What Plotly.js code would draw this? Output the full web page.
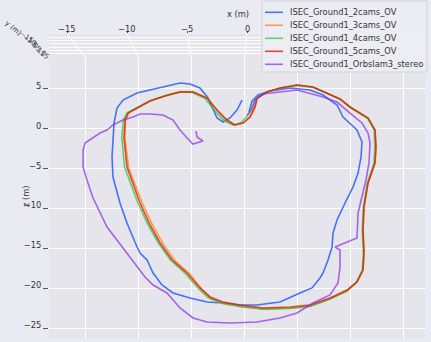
<!DOCTYPE html>
<html>
<head>
<meta charset="utf-8">
<script src="https://cdn.plot.ly/plotly-3.0.1.min.js"></script>
<style>
html, body { margin: 0; padding: 0; background: #eaeaf2; }
#plot { width: 431px; height: 342px; }
</style>
</head>
<body>
<div id="plot"></div>
<script>
// trajectories, x (m) / z (m)
var names = ['ISEC_Ground1_2cams_OV', 'ISEC_Ground1_3cams_OV', 'ISEC_Ground1_4cams_OV',
             'ISEC_Ground1_5cams_OV', 'ISEC_Ground1_Orbslam3_stereo'];
var colors = ['rgba(2,62,255,0.7)', 'rgba(255,124,0,0.7)', 'rgba(26,201,56,0.7)',
              'rgba(222,30,10,0.8)', 'rgba(139,43,226,0.7)'];

var x2cams = [0.44, 0.73, 1.29, 2.42, 4.31, 6.19, 7.42, 8.74, 9.30, 10.62, 11.09, 11.00, 10.72, 10.25, 9.49, 8.74, 8.36, 8.27, 7.89, 7.42, 7.13, 6.38, 5.25, 3.36, 1.20, -0.41, -2.01, -3.52, -5.12, -6.72, -7.76, -8.60, -9.17, -9.83, -10.11, -11.06, -11.72, -12.38, -12.47, -12.38, -12.28, -12.00, -11.43, -10.11, -8.89, -7.47, -6.06, -5.12, -4.18, -3.42, -2.95, -2.57, -2.01, -1.35, -0.69, -0.22];
var z2cams = [2.11, 3.49, 4.24, 4.74, 5.12, 4.87, 4.24, 2.99, 1.48, -0.15, -1.66, -3.54, -5.55, -7.30, -9.31, -11.44, -13.07, -14.83, -16.46, -18.09, -18.72, -19.97, -20.60, -21.73, -22.11, -22.11, -21.86, -21.73, -21.23, -20.60, -19.60, -18.09, -16.46, -15.58, -14.83, -11.82, -9.31, -6.05, -3.54, -1.41, 0.73, 2.61, 3.61, 4.49, 4.87, 5.37, 5.75, 5.62, 5.12, 3.86, 2.36, 1.36, 0.85, 1.36, 2.36, 3.61];

var x3cams = [-0.95, -0.12, 0.54, 1.01, 1.20, 2.14, 3.36, 4.97, 6.47, 7.79, 9.02, 9.96, 10.90, 11.66, 12.32, 12.41, 12.32, 11.66, 11.28, 11.19, 11.28, 11.19, 10.62, 9.70, 8.10, 6.19, 4.31, 1.76, -0.41, -2.00, -3.10, -3.95, -5.10, -6.50, -7.65, -8.60, -9.60, -10.90, -11.25, -11.20, -10.90, -10.00, -8.80, -7.40, -6.00, -4.80, -3.45, -2.55, -1.70, -0.95];
var z3cams = [0.50, 0.73, 1.48, 2.74, 3.84, 4.62, 5.12, 5.50, 5.24, 4.49, 3.74, 2.74, 1.98, 1.36, -0.15, -2.28, -4.29, -6.80, -9.81, -12.70, -15.58, -17.72, -19.22, -20.35, -21.35, -22.25, -22.50, -22.62, -22.30, -21.95, -21.35, -20.20, -18.30, -16.60, -14.45, -12.20, -9.40, -4.90, -1.20, 1.00, 2.00, 2.70, 3.55, 4.18, 4.66, 4.64, 3.80, 2.30, 1.00, 0.50];

var x4cams = [-1.00, -0.30, 0.35, 0.80, 1.10, 2.10, 3.36, 4.97, 6.47, 7.79, 9.02, 9.96, 10.85, 11.60, 12.25, 12.30, 12.22, 11.60, 11.22, 11.12, 11.22, 11.12, 10.55, 9.60, 8.00, 6.19, 4.31, 1.76, -0.41, -2.10, -3.40, -4.35, -5.60, -7.00, -8.15, -9.10, -10.05, -11.30, -11.55, -11.40, -11.05, -10.20, -8.95, -7.55, -6.15, -4.95, -3.70, -2.80, -1.90, -1.00];
var z4cams = [0.45, 0.80, 1.70, 2.90, 3.90, 4.62, 5.10, 5.45, 5.20, 4.45, 3.70, 2.70, 1.95, 1.33, -0.15, -2.28, -4.29, -6.80, -9.81, -12.70, -15.58, -17.72, -19.30, -20.40, -21.40, -22.30, -22.55, -22.65, -22.30, -21.85, -21.20, -20.00, -18.10, -16.40, -14.25, -12.00, -9.25, -4.75, -1.10, 1.15, 2.00, 2.65, 3.50, 4.12, 4.60, 4.58, 3.80, 2.30, 1.00, 0.45];

var x5cams = [-0.88, -0.12, 0.54, 1.01, 1.20, 2.14, 3.36, 4.97, 6.47, 7.79, 9.02, 9.96, 10.90, 11.66, 12.32, 12.41, 12.32, 11.66, 11.28, 11.19, 11.28, 11.19, 10.62, 9.68, 8.08, 6.19, 4.31, 1.76, -0.41, -2.01, -3.23, -4.18, -5.40, -6.81, -7.94, -8.89, -9.83, -11.06, -11.34, -11.24, -10.96, -10.11, -8.89, -7.47, -6.06, -4.84, -3.52, -2.57, -1.63, -0.88];
var z5cams = [0.48, 0.73, 1.48, 2.74, 3.84, 4.62, 5.12, 5.50, 5.24, 4.49, 3.74, 2.74, 1.98, 1.36, -0.15, -2.28, -4.29, -6.80, -9.81, -12.70, -15.58, -17.72, -19.22, -20.23, -21.23, -22.11, -22.36, -22.48, -22.11, -21.73, -21.10, -19.97, -18.09, -16.46, -14.33, -12.07, -9.31, -4.79, -1.15, 1.10, 1.98, 2.61, 3.49, 4.12, 4.62, 4.62, 3.86, 2.36, 1.10, 0.48];

var xOrb = [-4.55, -4.46, -3.89, -4.84, -5.40, -6.06, -6.72, -7.66, -8.89, -9.83, -10.49, -11.43, -12.38, -12.94, -13.60, -14.35, -15.01, -15.20, -15.20, -14.83, -14.26, -12.94, -11.06, -10.02, -9.36, -8.60, -7.29, -6.06, -4.84, -3.52, -1.35, 1.20, 3.36, 4.97, 6.47, 8.08, 8.83, 9.02, 9.02, 8.55, 10.62, 10.72, 11.09, 11.47, 11.75, 11.85, 11.66, 11.09, 9.96, 8.74, 7.42, 4.97, 1.76, 1.01, 0.82, 0.54, 0.25];
var zOrb = [-0.28, -1.03, -1.53, -1.91, -1.15, -0.15, 1.10, 1.73, 1.86, 1.86, 1.48, 1.10, 0.48, -0.15, -0.53, -1.15, -1.78, -2.66, -4.79, -6.42, -8.68, -12.32, -15.58, -17.47, -18.59, -19.60, -20.60, -22.48, -23.74, -24.24, -24.37, -24.24, -23.74, -23.11, -21.86, -20.85, -19.35, -17.34, -15.21, -14.83, -13.70, -10.56, -8.56, -6.42, -4.29, -1.78, -0.53, 0.73, 1.98, 3.36, 3.99, 4.87, 4.37, 3.61, 2.74, 2.11, 1.73];

var xs = [x2cams, x3cams, x4cams, x5cams, xOrb];
var zs = [z2cams, z3cams, z4cams, z5cams, zOrb];

var zTicks = [5, 0, -5, -10, -15, -20, -25];
var xGrid = [-15, -10, -5, 0, 5, 10, 15];
var xTopTicks = [-15, -10, -5, 0];
var yBackTicks = ['\u221215', '\u221210', '\u22125', '0', '5', '10', '15'];

function minus(v) { return v < 0 ? '\u2212' + (-v) : String(v); }

var W = 431, H = 342;
function px(v) { return v / W; }
function py(v) { return 1 - v / H; }

// plot box in pixels
var boxLeft = 49, boxRight = 425, boxTop = 57, boxBottom = 338, stripTop = 34;
var xRange = [-18.41, 17.03];
var zRange = [-26.25, 9.01];
var xTopRange = [-16.5, 14.83];

var font = {family: 'DejaVu Sans, sans-serif', size: 8.3, color: '#333'};
var small = {family: 'DejaVu Sans, sans-serif', size: 7, color: '#333'};

var data = [];
for (var i = 0; i < names.length; i++) {
    data.push({
        x: xs[i], y: zs[i], type: 'scatter', mode: 'lines', name: names[i],
        line: {color: colors[i], width: 1.6}, xaxis: 'x', yaxis: 'y', hoverinfo: 'skip'
    });
}
// keeps the top strip axes drawn
data.push({x: [], y: [], xaxis: 'x2', yaxis: 'y2', type: 'scatter', mode: 'lines', showlegend: false});

var shapes = [];
var annotations = [];

function label(text, x, y, f, extra) {
    var a = {text: text, xref: 'paper', yref: 'paper', x: px(x), y: py(y),
        xanchor: 'center', yanchor: 'middle', showarrow: false, font: f};
    for (var k in extra) a[k] = extra[k];
    annotations.push(a);
}

// slanted grid lines from the back wall down to the floor
function topPx(v) { return boxLeft + (v - xTopRange[0]) * (boxRight - boxLeft) / (xTopRange[1] - xTopRange[0]); }
function bodyPx(v) { return boxLeft + (v - xRange[0]) * (boxRight - boxLeft) / (xRange[1] - xRange[0]); }
xGrid.forEach(function (v) {
    shapes.push({type: 'line', xref: 'paper', yref: 'paper',
        x0: px(topPx(v)), y0: py(stripTop), x1: px(bodyPx(v)), y1: py(boxTop),
        line: {color: '#ffffff', width: 1}, layer: 'below'});
});
// top tick labels of the x axis
xTopTicks.forEach(function (v) {
    label(minus(v), topPx(v), 28.5, font);
});

// squashed y axis at the top left
label('y (m)', 13, 28, small, {textangle: 40});
yBackTicks.forEach(function (t, k) {
    label(t, 26 + k * 3, 37 + k * 3, small, {textangle: 35});
});

label('x (m)', 238, 14, font);
label('z (m)', 26, 196, font, {textangle: -90});

// legend
shapes.push({type: 'rect', xref: 'paper', yref: 'paper', x0: px(262), x1: px(427), y0: py(72), y1: py(1),
    fillcolor: 'rgba(236,236,243,0.95)', line: {color: '#d2d2da', width: 1}, layer: 'above'});
for (var j = 0; j < names.length; j++) {
    var ry = 12.3 + j * 13;
    shapes.push({type: 'line', xref: 'paper', yref: 'paper', x0: px(265), x1: px(283), y0: py(ry), y1: py(ry),
        line: {color: colors[j], width: 1.6}, layer: 'above'});
    label(names[j], 288, ry, font, {xanchor: 'left'});
}

var layout = {
    width: W, height: H,
    margin: {l: 0, r: 0, t: 0, b: 0},
    paper_bgcolor: '#eaeaf2',
    plot_bgcolor: '#e5e5eb',
    font: font,
    showlegend: false,
    xaxis: {domain: [px(boxLeft), px(boxRight)], range: xRange, anchor: 'y',
        tickvals: xGrid, showticklabels: false, ticks: '', gridcolor: '#ffffff', gridwidth: 1,
        zeroline: false, showline: false, fixedrange: true},
    yaxis: {domain: [py(boxBottom), py(boxTop)], range: zRange, anchor: 'x',
        tickvals: zTicks, ticktext: zTicks.map(minus), ticks: 'outside', ticklen: 5, tickcolor: '#555',
        ticklabelshift: -3, gridcolor: '#ffffff', gridwidth: 1, zeroline: false, showline: false,
        fixedrange: true},
    xaxis2: {domain: [px(boxLeft), px(boxRight)], range: xTopRange, anchor: 'y2', side: 'top',
        tickvals: xTopTicks, showticklabels: false, ticks: 'outside', ticklen: 2, tickcolor: '#555',
        showgrid: false, zeroline: false, showline: false, fixedrange: true},
    yaxis2: {domain: [py(boxTop), py(stripTop)], range: [0, 7], anchor: 'x2',
        tickvals: [0, 1, 2, 3, 4, 5, 6, 7], showticklabels: false, ticks: '',
        gridcolor: '#ffffff', gridwidth: 1, zeroline: false, showline: false, fixedrange: true},
    shapes: shapes,
    annotations: annotations
};

Plotly.newPlot('plot', data, layout, {displayModeBar: false, staticPlot: true});
</script>
</body>
</html>
